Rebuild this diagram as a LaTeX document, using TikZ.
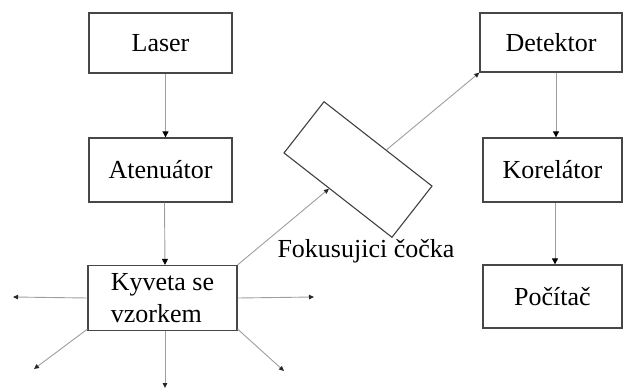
\documentclass[tikz,border=0pt]{standalone}
\usepackage{fontspec}
\setmainfont{Liberation Serif}
\usetikzlibrary{arrows.meta,calc}
\begin{document}
\begin{tikzpicture}[x=1pt,y=-1pt,
  blok/.style={draw=black!72,line width=1.3pt,minimum width=143pt,minimum height=60pt,
    font=\fontsize{26}{32}\selectfont,inner sep=2pt},
  tok/.style={draw=black!38,line width=0.9pt,-{Triangle[length=6pt,width=6pt,color=black]}},
  paprsek/.style={draw=black!38,line width=0.9pt,-{Triangle[length=5pt,width=4.5pt,color=black!85]}}]
\useasboundingbox (0,0) rectangle (625,389);

% levý sloupec
\node[blok] (laser) at (160.5,43) {Laser};
\node[blok,minimum height=64pt] (aten) at (160.5,170) {Atenuátor};
\node[blok,minimum width=149pt,minimum height=65pt,align=left] (kyv) at (162.5,298) {Kyveta se\\vzorkem};

% pravý sloupec
\node[blok,minimum width=142pt,minimum height=59pt] (det) at (551,42.5) {Detektor};
\node[blok,minimum width=139pt,minimum height=64pt] (kor) at (552.5,170) {Korelátor};
\node[blok,minimum width=139pt,minimum height=63pt] (pc) at (552.5,296.5) {Počítač};

% čočka
\node[draw=black!75,line width=1.1pt,minimum width=137pt,minimum height=65pt,rotate=-38] (lens) at (358,169.5) {};
\node[font=\fontsize{26}{28}\selectfont,anchor=base west] (lenslabel) at (274,257) {Fokusujici čočka};

% toky mezi bloky
\draw[tok] ([xshift=5pt]laser.south) -- ([xshift=5pt]aten.north);
\draw[tok] ([xshift=4pt]aten.south) -- ([xshift=2.5pt]kyv.north);
\draw[tok] ([xshift=5pt]det.south) -- ([xshift=3.5pt]kor.north);
\draw[tok] ([xshift=2.5pt]kor.south) -- ([xshift=2.5pt]pc.north);

% paprsek přes čočku
\draw[paprsek] (kyv.north east) -- ($(lens.south)!0.16!(lens.south west)$);
\draw[paprsek] ($(lens.north)!0.15!(lens.north east)$) -- (det.south west);

% rozptyl ze vzorku
\coordinate (l) at (13,297);
\coordinate (r) at (314,297);
\coordinate (d) at (165,388);
\coordinate (dl) at (34,369);
\coordinate (dr) at (284,371);
\draw[paprsek] (kyv.west) -- (l);
\draw[paprsek] (kyv.east) -- (r);
\draw[paprsek] ([xshift=2.5pt]kyv.south) -- (d);
\draw[paprsek] ([yshift=2pt]kyv.south west) -- (dl);
\draw[paprsek] ([yshift=2pt]kyv.south east) -- (dr);
\end{tikzpicture}
\end{document}
